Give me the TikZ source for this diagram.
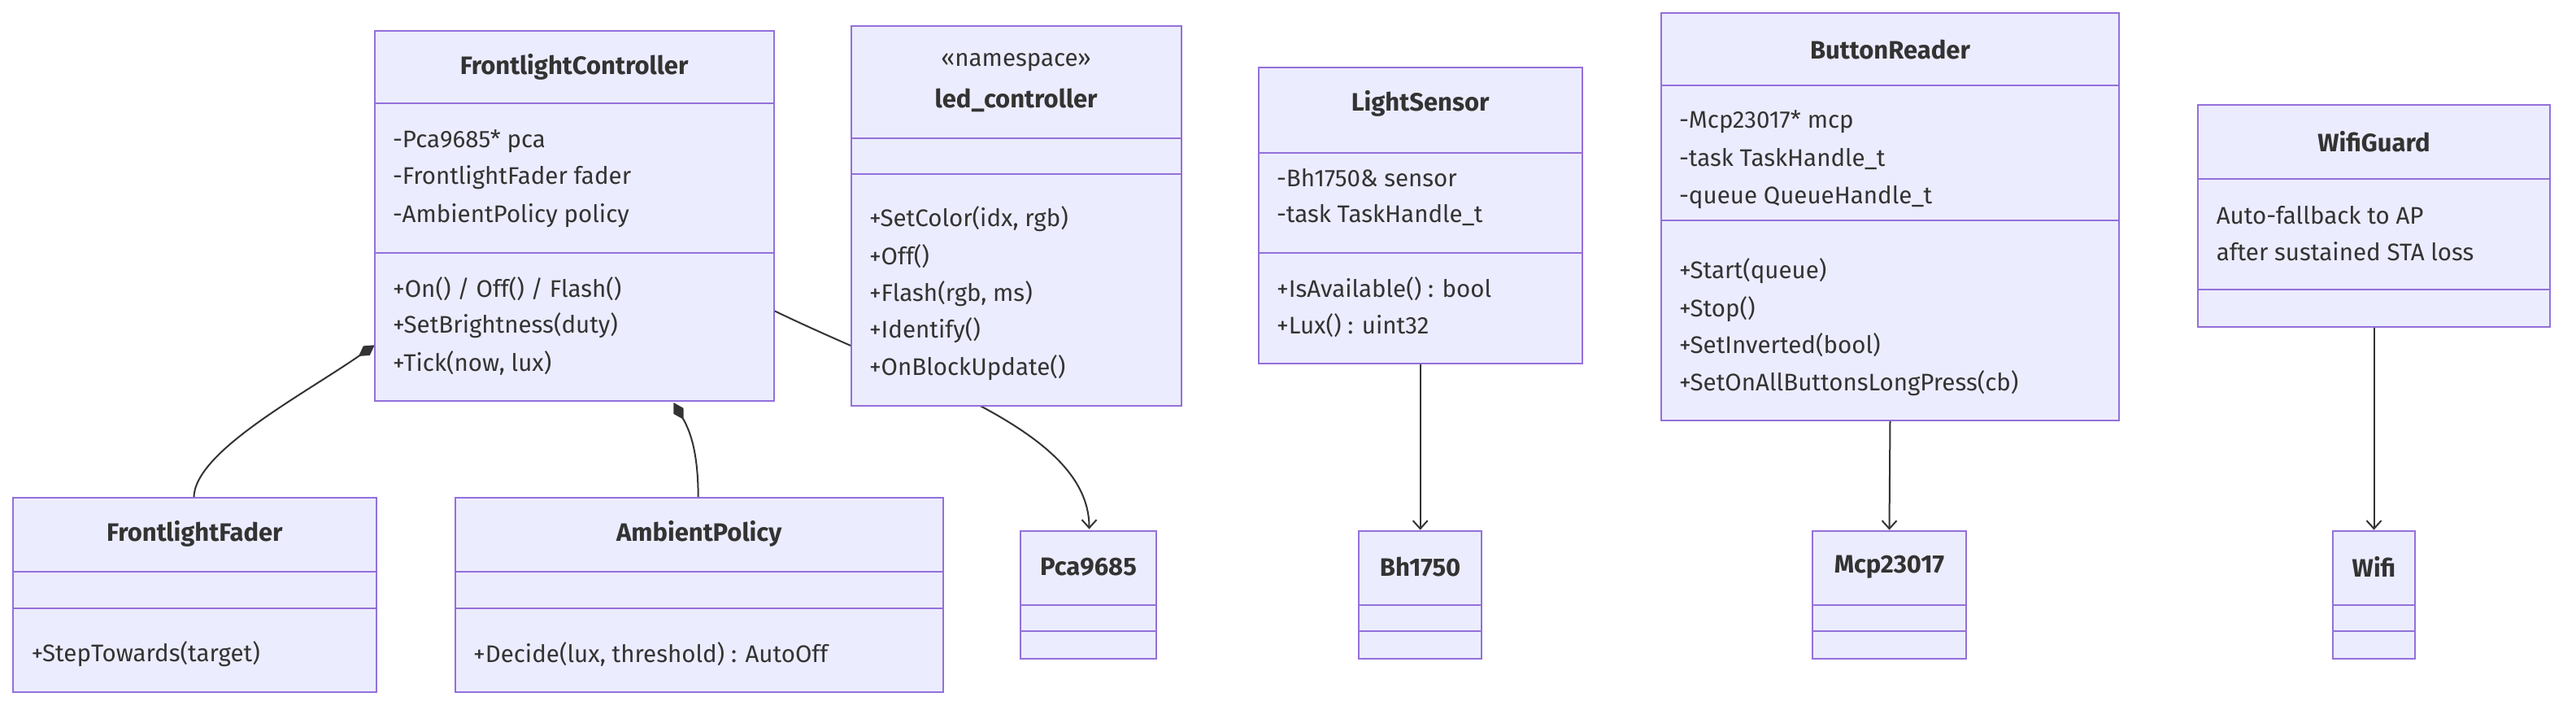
\documentclass[tikz,border=0pt]{standalone}
\usepackage{fontspec}
\setmainfont{Fira Sans}
\usetikzlibrary{fit,arrows.meta}
\definecolor{bfill}{HTML}{ECECFF}
\definecolor{bline}{HTML}{9370DB}
\definecolor{txt}{HTML}{333333}
\tikzset{
  cls/.style={draw=bline,fill=bfill,line width=2pt,inner sep=0pt},
  sep/.style={draw=bline,line width=2pt},
  ttl/.style={font=\fontsize{31}{37}\selectfont\bfseries,text=txt,inner sep=0pt},
  stereo/.style={font=\fontsize{29.5}{35}\selectfont,text=txt,inner sep=0pt},
  mem/.style={font=\fontsize{29.5}{35}\selectfont,text=txt,anchor=west,inner sep=0pt},
  con/.style={draw=txt,line width=2pt},
  comp/.style={con,-{Diamond[fill=txt,length=24pt,width=14pt]}},
  dep/.style={con,-{Straight Barb[length=10pt,width=18pt,line width=2pt]}},
}
\newcommand{\clsbox}[7]{%
  \coordinate (#1a) at (#2,#3); \coordinate (#1b) at (#4,#5);
  \node[cls,fit=(#1a)(#1b)] (#1) {};
  \draw[sep] (#2,#6) -- (#4,#6);
  \draw[sep] (#2,#7) -- (#4,#7);
}
\begin{document}
\begin{tikzpicture}[x=2.0204pt,y=-2.0204pt]
\useasboundingbox (0,0) rectangle (1568,431.6);
% connectors first (drawn behind boxes)
\coordinate (fca) at (471,189);
\coordinate (pcat) at (663,322);
\coordinate (ffT) at (118,303);
\coordinate (fcD1) at (228,210);
\coordinate (apT) at (425,303);
\coordinate (fcD2) at (410,245);
\draw[dep] (fca) .. controls (560,232) and (663,262) .. (pcat);
\draw[comp] (ffT) .. controls (118,275) and (185,240) .. (fcD1);
\draw[comp] (apT) .. controls (425,275) and (420,262) .. (fcD2);
% FrontlightController
\clsbox{fc}{228}{19}{471}{244}{63}{154}
\node[ttl] at (349.5,41) {FrontlightController};
\node[mem] at (239,86) {-Pca9685* pca};
\node[mem] at (239,108) {-FrontlightFader fader};
\node[mem] at (239,131) {-AmbientPolicy policy};
\node[mem] at (239,176) {+On() / Off() / Flash()};
\node[mem] at (239,198) {+SetBrightness(duty)};
\node[mem] at (239,221) {+Tick(now, lux)};
% led_controller
\clsbox{led}{518}{16}{719}{247}{84}{106}
\node[stereo] at (618.5,38) {«namespace»};
\node[ttl] at (618.5,61) {led\_controller};
\node[mem] at (529,133) {+SetColor(idx, rgb)};
\node[mem] at (529,156) {+Off()};
\node[mem] at (529,179) {+Flash(rgb, ms)};
\node[mem] at (529,201) {+Identify()};
\node[mem] at (529,224) {+OnBlockUpdate()};
% LightSensor
\clsbox{ls}{766}{41}{963}{221}{93}{154}
\node[ttl] at (864.5,63) {LightSensor};
\node[mem] at (777,108) {-Bh1750\& sensor};
\node[mem] at (777,131) {-task TaskHandle\_t};
\node[mem] at (777,176) {+IsAvailable() : bool};
\node[mem] at (777,198) {+Lux() : uint32};
% ButtonReader
\clsbox{br}{1011}{8}{1290}{256}{52}{134}
\node[ttl] at (1150.5,30) {ButtonReader};
\node[mem] at (1022,74) {-Mcp23017* mcp};
\node[mem] at (1022,97) {-task TaskHandle\_t};
\node[mem] at (1022,120) {-queue QueueHandle\_t};
\node[mem] at (1022,165) {+Start(queue)};
\node[mem] at (1022,188) {+Stop()};
\node[mem] at (1022,210) {+SetInverted(bool)};
\node[mem] at (1022,233) {+SetOnAllButtonsLongPress(cb)};
% WifiGuard
\clsbox{wg}{1338}{64}{1552}{199}{109}{176}
\node[ttl] at (1445,86) {WifiGuard};
\node[mem] at (1349,131) {Auto-fallback to AP};
\node[mem] at (1349,153) {after sustained STA loss};
% FrontlightFader
\clsbox{ff}{8}{303}{229}{421}{348}{370}
\node[ttl] at (118.5,325) {FrontlightFader};
\node[mem] at (19,398) {+StepTowards(target)};
% AmbientPolicy
\clsbox{ap}{277}{303}{574}{421}{348}{370}
\node[ttl] at (425.5,325) {AmbientPolicy};
\node[mem] at (288,398) {+Decide(lux, threshold) : AutoOff};
% small boxes
\clsbox{pca}{621}{323}{704}{401}{368}{384}
\node[ttl] at (662.5,345) {Pca9685};
\clsbox{bh}{827}{323}{902}{401}{368}{384}
\node[ttl] at (864.5,345) {Bh1750};
\clsbox{mcp}{1103}{323}{1197}{401}{368}{384}
\node[ttl] at (1150,345) {Mcp23017};
\clsbox{wifi}{1420}{323}{1470}{401}{368}{384}
\node[ttl] at (1445,345) {Wifi};
% straight dependencies
\draw[dep] (ls.south) -- (bh.north);
\draw[dep] (br.south) -- (mcp.north);
\draw[dep] (wg.south) -- (wifi.north);
\end{tikzpicture}
\end{document}
